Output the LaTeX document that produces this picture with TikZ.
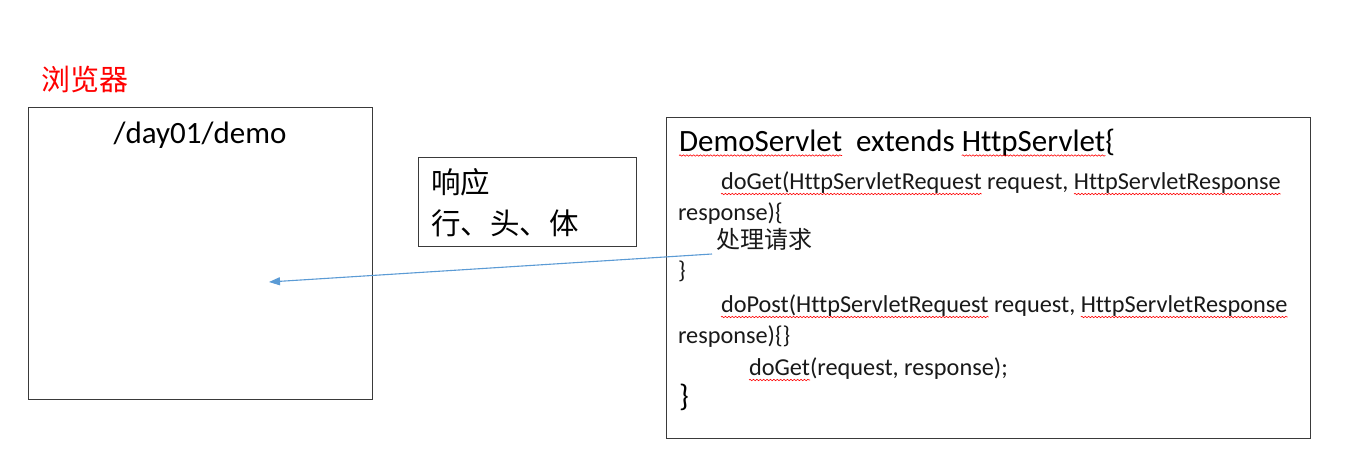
\documentclass[tikz,border=0pt]{standalone}
\usepackage{fontspec}
\setmainfont{Carlito}[Ligatures={NoCommon}]
\newfontfamily\cjk{Noto Sans CJK SC}
\usetikzlibrary{arrows.meta,decorations.pathmorphing}
\definecolor{arrowblue}{HTML}{5B9BD5}
\definecolor{boxgray}{HTML}{3A3A3A}
\tikzset{
  boxst/.style={draw=boxgray, line width=1.2pt, inner sep=0pt, anchor=north west},
  codeline/.style={anchor=base west, inner sep=0pt, outer sep=0pt, text=black!90, font=\fontsize{24.3}{28}\selectfont},
  bigline/.style={anchor=base west, inner sep=0pt, outer sep=0pt, text=black, font=\fontsize{31}{35}\selectfont},
  cjktext/.style={anchor=base west, inner sep=0pt, font=\cjk\fontsize{29.5}{34}\selectfont},
  squig/.style={draw=red, line width=0.6pt, decorate, decoration={snake, amplitude=0.7pt, segment length=3.4pt}},
}
\newcommand\squnder[2]{\draw[squig] ([yshift=-#2]#1.base west) -- ([yshift=-#2]#1.base east);}
\begin{document}
\begin{tikzpicture}[x=1pt,y=-1pt]
\useasboundingbox[fill=white] (0,0) rectangle (1370,461);
% browser
\node[boxst, minimum width=344pt, minimum height=292pt] (browser) at (28,107) {};
\node[anchor=base, inner sep=0pt, font=\fontsize{31}{35}\selectfont] (url) at (200,143) {/day01/demo};
\node[cjktext, text=red, font=\cjk\fontsize{29}{33}\selectfont] (blabel) at (41,90) {浏览器};
% response box
\node[boxst, minimum width=218pt, minimum height=89pt] (resp) at (418,157) {};
\node[cjktext] (resp1) at (431,193) {响应};
\node[cjktext] (resp2) at (431,234) {行、头、体};
% servlet box
\node[boxst, minimum width=644pt, minimum height=321pt] (servlet) at (666,117) {};
% line 1
\node[bigline] (l1a) at (679,151) {DemoServlet};
\node[bigline] (l1b) at (l1a.base east) {\ \ extends\ \mbox{}};
\node[bigline] (l1c) at (l1b.base east) {HttpServlet};
\node[bigline] (l1d) at (l1c.base east) {\{};
% line 2
\node[codeline] (l2a) at (721,189) {doGet(HttpServletRequest};
\node[codeline] (l2b) at (l2a.base east) {\ request,\ \mbox{}};
\node[codeline] (l2c) at (l2b.base east) {HttpServletResponse};
\node[codeline] (l3) at (678,220) {response)\{};
\node[codeline, font=\cjk\fontsize{24}{28}\selectfont] (l4) at (716,248) {处理请求};
\node[codeline] (l5) at (678,278) {\}};
% doPost
\node[codeline] (l6a) at (721,312) {doPost(HttpServletRequest};
\node[codeline] (l6b) at (l6a.base east) {\ request,\ \mbox{}};
\node[codeline] (l6c) at (l6b.base east) {HttpServletResponse};
\node[codeline] (l7) at (678,343) {response)\{\}};
\node[codeline] (l8a) at (749,375) {doGet};
\node[codeline] (l8b) at (l8a.base east) {(request, response);};
\node[bigline] (l9) at (679,406) {\}};
% spell-check squiggles
\squnder{l1a}{4.5pt}
\squnder{l1c}{4.5pt}
\squnder{l2a}{5pt}
\squnder{l2c}{5pt}
\squnder{l6a}{5pt}
\squnder{l6c}{5pt}
\squnder{l8a}{5pt}
% arrow
\coordinate (src) at (712,254);
\coordinate (tip) at (269,282);
\draw[arrowblue, line width=1.1pt, -{Triangle[length=11pt,width=8pt]}] (src) -- (tip);
\end{tikzpicture}
\end{document}
